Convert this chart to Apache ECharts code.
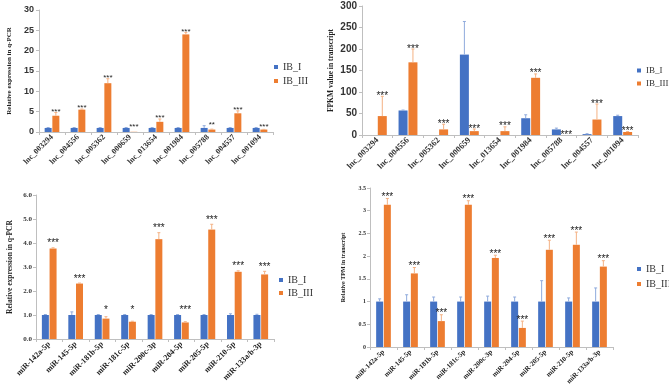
<!DOCTYPE html>
<html>
<head>
<meta charset="utf-8">
<script src="https://cdn.jsdelivr.net/npm/echarts@6/dist/echarts.min.js"></script>
<style>html,body{margin:0;padding:0;background:#fff;}#c{width:669px;height:385px;}</style>
</head>
<body>
<div id="c"></div>
<script>
// ---------- data ----------
const lncCats = ['lnc_003294','lnc_004556','lnc_005362','lnc_000659','lnc_013654','lnc_001984','lnc_005788','lnc_004557','lnc_001094'];
const mirCats = ['miR-142a-5p','miR-145-5p','miR-181b-5p','miR-181c-5p','miR-200c-3p','miR-204-5p','miR-205-5p','miR-210-5p','miR-133a/b-3p'];
const seriesNames = ['IB_I','IB_III'];

// Panel 1: lncRNA q-PCR
const p1_I     = [1, 1, 1, 1, 1, 1, 1, 1, 1];
const p1_I_err = [0.1, 0.1, 0.1, 0.1, 0.1, 0.1, 0.55, 0.1, 0.1];
const p1_III     = [4.0, 5.5, 12.0, 0.05, 2.5, 24.0, 0.6, 4.6, 0.6];
const p1_III_err = [0.8, 0.15, 1.1, 0, 0.7, 0.5, 0.1, 0.6, 0.05];
const p1_sig = ['***','***','***','***','***','***','**','***','***'];
const p1_ticks = [0, 5, 10, 15, 20, 25, 30];

// Panel 2: lncRNA FPKM
const p2_I     = [0, 57, 0, 187, 0, 39, 13, 2, 44];
const p2_I_err = [0, 1, 0, 77, 0, 8, 3, 1, 2];
const p2_III     = [44, 169, 13, 9, 9, 133, 0, 36, 7];
const p2_III_err = [46, 31, 12, 5, 10, 9, 0, 36, 1];
const p2_sig = ['***','***','***','***','***','***','***','***','***'];
const p2_ticks = [0, 50, 100, 150, 200, 250, 300];

// Panel 3: miRNA q-PCR
const p3_I     = [1, 1, 1, 1, 1, 1, 1, 1, 1];
const p3_I_err = [0.02, 0.13, 0.02, 0.02, 0.02, 0.02, 0.02, 0.05, 0.03];
const p3_III     = [3.77, 2.31, 0.85, 0.72, 4.16, 0.69, 4.56, 2.80, 2.69];
const p3_III_err = [0.03, 0.02, 0.08, 0.02, 0.27, 0.03, 0.22, 0.04, 0.13];
const p3_sig = ['***','***','*','*','***','***','***','***','***'];
const p3_ticks = ['0.0','1.0','2.0','3.0','4.0','5.0','6.0'];

// Panel 4: miRNA TPM
const p4_I     = [1, 1, 1, 1, 1, 1, 1, 1, 1];
const p4_I_err = [0.06, 0.15, 0.1, 0.1, 0.12, 0.1, 0.46, 0.08, 0.3];
const p4_III     = [3.13, 1.62, 0.57, 3.13, 1.96, 0.42, 2.14, 2.25, 1.77];
const p4_III_err = [0.14, 0.13, 0.14, 0.09, 0.06, 0.15, 0.21, 0.28, 0.13];
const p4_sig = ['***','***','***','***','***','***','***','***','***'];
const p4_ticks = ['0','0.5','1','1.5','2','2.5','3','3.5'];

// ---------- styling / layout ----------
const BLUE = '#4472C4', ORANGE = '#ED7D31';
const BLUE_E = '#8FAADC', ORANGE_E = '#F4B183';
const SERIF = '"Liberation Serif","Times New Roman",serif';
const SANS = '"Liberation Sans",Arial,sans-serif';

const panels = [
  { cats: lncCats, I: p1_I, Ie: p1_I_err, III: p1_III, IIIe: p1_III_err, sig: p1_sig, ticks: p1_ticks,
    grid: {left: 39, right: 396, top: 10, bottom: 253}, max: 30, interval: 5, bw: 7,
    yName: 'Relative expression in q-PCR', yNameGap: 26, yNameSize: 7,
    yLabel: {fontFamily: SANS, fontWeight: 'bold', fontSize: 9, color: '#333', margin: 5},
    xLabel: {fontFamily: SERIF, fontWeight: 'bold', fontSize: 8, color: '#333'},
    legend: {left: 274, top: 62, size: 10, gap: 4},
    starSize: 8, starOff: 3, starRule: 'max' },
  { cats: lncCats, I: p2_I, Ie: p2_I_err, III: p2_III, IIIe: p2_III_err, sig: p2_sig, ticks: p2_ticks,
    grid: {left: 362, right: 31, top: 6, bottom: 250}, max: 300, interval: 50, bw: 9,
    yName: 'FPKM value in transcript', yNameGap: 27, yNameSize: 7.5,
    yLabel: {fontFamily: SANS, fontWeight: 'bold', fontSize: 10, color: '#333', margin: 5},
    xLabel: {fontFamily: SERIF, fontWeight: 'bold', fontSize: 8.5, color: '#333'},
    legend: {left: 637, top: 66, size: 9, gap: 4},
    starSize: 10, starOff: 3, starRule: 'orange' },
  { cats: mirCats, I: p3_I, Ie: p3_I_err, III: p3_III, IIIe: p3_III_err, sig: p3_sig, ticks: p3_ticks,
    grid: {left: 36, right: 395, top: 195, bottom: 46}, max: 6, interval: 1, bw: 7,
    yName: 'Relative expression in q-PCR', yNameGap: 22, yNameSize: 7.5,
    yLabel: {fontFamily: SERIF, fontWeight: 'bold', fontSize: 7, color: '#333', margin: 4},
    xLabel: {fontFamily: SERIF, fontWeight: 'bold', fontSize: 8, color: '#222'},
    legend: {left: 279, top: 275, size: 10, gap: 3},
    starSize: 10, starOff: 7, starRule: 'max' },
  { cats: mirCats, I: p4_I, Ie: p4_I_err, III: p4_III, IIIe: p4_III_err, sig: p4_sig, ticks: p4_ticks,
    grid: {left: 370, right: 56, top: 188, bottom: 38}, max: 3.5, interval: 0.5, bw: 7,
    yName: 'Relative TPM in transcript', yNameGap: 24, yNameSize: 6,
    yLabel: {fontFamily: SERIF, fontWeight: 'bold', fontSize: 6, color: '#333', margin: 4},
    xLabel: {fontFamily: SERIF, fontWeight: 'bold', fontSize: 7, color: '#222'},
    legend: {left: 637, top: 264, size: 10, gap: 5},
    starSize: 10, starOff: 4, starRule: 'orange' }
];

const grids = [], xAxes = [], yAxes = [], series = [], legends = [];
panels.forEach((p, k) => {
  grids.push(Object.assign({outerBoundsMode: 'none', containLabel: false}, p.grid));
  xAxes.push({
    type: 'category', gridIndex: k, data: p.cats,
    axisLine: {lineStyle: {color: '#BFBFBF', width: 1}},
    axisTick: {show: true, length: 3, lineStyle: {color: '#BFBFBF'}},
    axisLabel: Object.assign({rotate: 45, interval: 0, margin: 4}, p.xLabel),
    splitLine: {show: false}
  });
  yAxes.push({
    type: 'value', gridIndex: k, min: 0, max: p.max, interval: p.interval,
    name: p.yName, nameLocation: 'middle', nameGap: p.yNameGap,
    nameTextStyle: {fontFamily: SERIF, fontWeight: 'bold', fontSize: p.yNameSize, color: '#222'},
    axisLine: {show: true, lineStyle: {color: '#BFBFBF', width: 1}},
    axisTick: {show: true, length: 3, lineStyle: {color: '#BFBFBF'}},
    axisLabel: Object.assign({formatter: (v) => String(p.ticks[Math.round(v / p.interval)])}, p.yLabel),
    splitLine: {show: false}
  });
  const names = seriesNames.map(n => n + '\u200B'.repeat(k));
  series.push({
    type: 'bar', name: names[0], xAxisIndex: k, yAxisIndex: k, data: p.I,
    barWidth: p.bw, barGap: '10%', itemStyle: {color: BLUE}, silent: true
  });
  series.push({
    type: 'bar', name: names[1], xAxisIndex: k, yAxisIndex: k, data: p.III,
    barWidth: p.bw, barGap: '10%', itemStyle: {color: ORANGE}, silent: true
  });
  series.push({
    type: 'custom', xAxisIndex: k, yAxisIndex: k, silent: true, z: 5,
    data: p.cats.map((c, i) => [i, 0]),
    encode: {x: 0, y: 1},
    renderItem: function (params, api) {
      const i = api.value(0);
      const base = api.coord([i, 0]);
      const gap = p.bw * 0.1;
      const off = (p.bw + gap) / 2;
      const children = [];
      const groups = [[p.I, p.Ie, -off, BLUE_E], [p.III, p.IIIe, off, ORANGE_E]];
      groups.forEach(([vals, errs, dx, col]) => {
        const v = vals[i], e = errs[i];
        if (e > 0) {
          const a = api.coord([i, v]), b = api.coord([i, v + e]);
          const x = base[0] + dx;
          children.push({type: 'line', shape: {x1: x, y1: a[1], x2: x, y2: b[1]}, style: {stroke: col, lineWidth: 1}});
          children.push({type: 'line', shape: {x1: x - 1.5, y1: b[1], x2: x + 1.5, y2: b[1]}, style: {stroke: col, lineWidth: 1}});
        }
      });
      const topIII = p.III[i] + p.IIIe[i];
      const ref = p.starRule === 'max' ? Math.max(topIII, p.I[i] + p.Ie[i]) : topIII;
      const yRef = api.coord([i, ref])[1];
      children.push({
        type: 'text',
        style: {
          text: p.sig[i], x: base[0] + off, y: yRef - p.starOff + p.starSize * 0.28,
          textAlign: 'center', textVerticalAlign: 'middle',
          fontSize: p.starSize, fontFamily: SANS, fill: '#222'
        }
      });
      return {type: 'group', children: children};
    }
  });
  legends.push({
    orient: 'vertical', left: p.legend.left, top: p.legend.top, padding: 0,
    itemWidth: 4, itemHeight: 4, itemGap: p.legend.gap, icon: 'rect',
    data: names,
    formatter: (n) => n.replace(/\u200B/g, ''),
    textStyle: {fontFamily: SERIF, fontSize: p.legend.size, color: '#333', lineHeight: p.legend.size},
    selectedMode: false
  });
});

const chart = echarts.init(document.getElementById('c'), null, {renderer: 'canvas'});
chart.setOption({
  backgroundColor: '#fff',
  animation: false,
  grid: grids, xAxis: xAxes, yAxis: yAxes, series: series, legend: legends
});
</script>
</body>
</html>
